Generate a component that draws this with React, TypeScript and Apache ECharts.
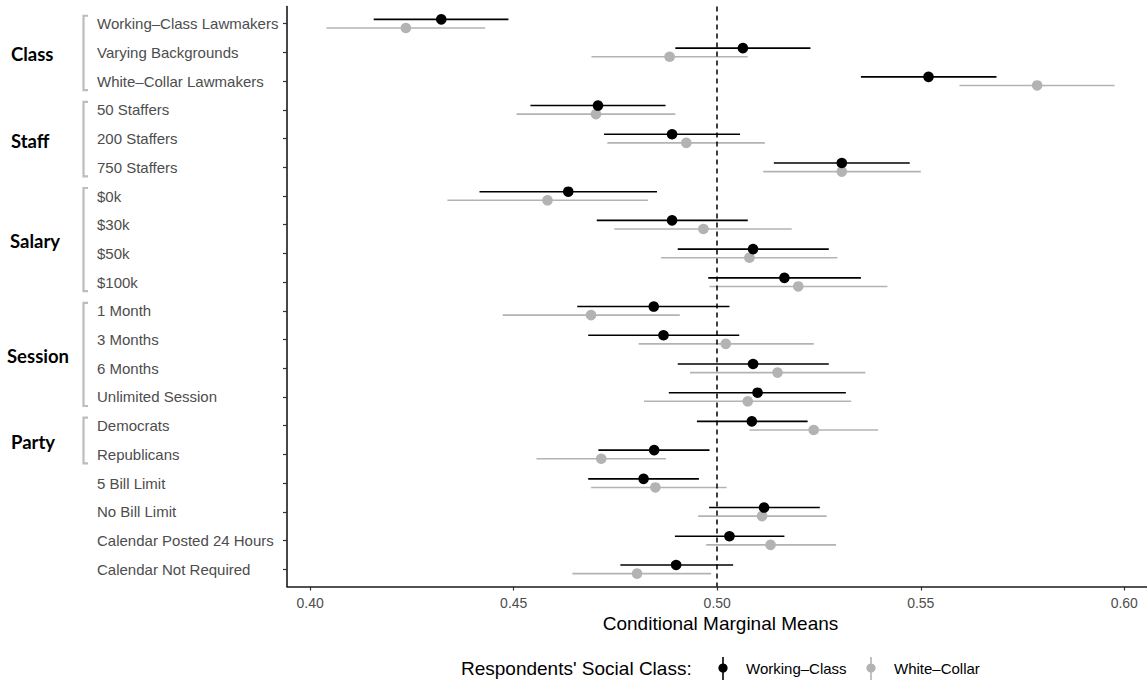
import React, { useEffect, useRef } from "react";
import * as echarts from "echarts";

const categories = [
  "Working–Class Lawmakers",
  "Varying Backgrounds",
  "White–Collar Lawmakers",
  "50 Staffers",
  "200 Staffers",
  "750 Staffers",
  "$0k",
  "$30k",
  "$50k",
  "$100k",
  "1 Month",
  "3 Months",
  "6 Months",
  "Unlimited Session",
  "Democrats",
  "Republicans",
  "5 Bill Limit",
  "No Bill Limit",
  "Calendar Posted 24 Hours",
  "Calendar Not Required",
];

const workingMean = [0.4322, 0.5063, 0.5519, 0.4707, 0.4889, 0.5306, 0.4634, 0.4889, 0.5088, 0.5165, 0.4844, 0.4868, 0.5088, 0.5099, 0.5085, 0.4845, 0.4819, 0.5115, 0.503, 0.4899];
const workingLow = [0.4156, 0.4897, 0.5353, 0.4541, 0.4722, 0.5139, 0.4416, 0.4704, 0.4903, 0.4978, 0.4656, 0.4683, 0.4903, 0.4881, 0.495, 0.4708, 0.4683, 0.498, 0.4896, 0.4762];
const workingHigh = [0.4487, 0.5229, 0.5686, 0.4873, 0.5056, 0.5473, 0.4852, 0.5075, 0.5274, 0.5353, 0.503, 0.5054, 0.5274, 0.5316, 0.5222, 0.4981, 0.4955, 0.5252, 0.5165, 0.5039];

const whiteMean = [0.4235, 0.4883, 0.5786, 0.4702, 0.4924, 0.5306, 0.4583, 0.4966, 0.5079, 0.5199, 0.469, 0.5021, 0.5148, 0.5075, 0.5237, 0.4715, 0.4848, 0.511, 0.5131, 0.4803];
const whiteLow = [0.404, 0.4691, 0.5595, 0.4507, 0.473, 0.5113, 0.4337, 0.4747, 0.4862, 0.4981, 0.4473, 0.4807, 0.4933, 0.482, 0.5079, 0.4556, 0.469, 0.4953, 0.4973, 0.4644];
const whiteHigh = [0.443, 0.5075, 0.5976, 0.4897, 0.5117, 0.55, 0.483, 0.5183, 0.5295, 0.5418, 0.4908, 0.5237, 0.5364, 0.5329, 0.5395, 0.4874, 0.5023, 0.5269, 0.5292, 0.4985];

const xTicks = [0.4, 0.45, 0.5, 0.55, 0.6];
const referenceValue = 0.5;

const groupNames = ["Class", "Staff", "Salary", "Session", "Party"];
const groupFirstRow = [0, 3, 6, 10, 14];
const groupLastRow = [2, 5, 9, 13, 15];
const groupLabelX = [11, 11, 10, 7, 11];

const seriesNames = ["Working–Class", "White–Collar"];
const BLACK = "#000000";
const GREY = "#b3b3b3";
const FONT = "'Liberation Sans', Arial, Helvetica, sans-serif";

function buildRows(mean: number[], low: number[], high: number[]) {
  return categories.map((_, i) => [i, low[i], high[i], mean[i]]);
}

function makeRender(color: string, shift: number, lineWidth: number) {
  return (params: any, api: any) => {
    const row = api.value(0);
    const lo = api.value(1);
    const hi = api.value(2);
    const m = api.value(3);
    const rowPx = api.size([0, 1])[1];
    const dy = shift * rowPx;
    const p1 = api.coord([lo, row]);
    const p2 = api.coord([hi, row]);
    const pm = api.coord([m, row]);
    return {
      type: "group",
      children: [
        {
          type: "line",
          shape: { x1: p1[0], y1: p1[1] + dy, x2: p2[0], y2: p2[1] + dy },
          style: { stroke: color, lineWidth },
        },
        {
          type: "circle",
          shape: { cx: pm[0], cy: pm[1] + dy, r: 5.3 },
          style: { fill: color },
        },
      ],
    };
  };
}

export default function App() {
  const ref = useRef<HTMLDivElement>(null);

  useEffect(() => {
    document.body.style.margin = "0";
    if (!ref.current) return;
    const chart = echarts.init(ref.current, null, { renderer: "svg" });
    const rowIdx = categories.map((_, i) => i);

    chart.setOption({
      animation: false,
      backgroundColor: "#ffffff",
      grid: { left: 287, top: 6.5, width: 867, height: 580, containLabel: false, outerBoundsMode: "none" },
      xAxis: {
        type: "value",
        min: 0.3943,
        max: 0.6073,
        splitLine: { show: false },
        axisLine: { show: true, onZero: false, lineStyle: { color: "#1a1a1a", width: 1.6 } },
        axisTick: { show: true, length: 4, customValues: xTicks, lineStyle: { color: "#333333", width: 1.2 } },
        axisLabel: {
          customValues: xTicks,
          formatter: (v: number) => v.toFixed(2),
          color: "#4d4d4d",
          fontSize: 14,
          fontFamily: FONT,
          margin: 9,
        },
        name: "Conditional Marginal Means",
        nameLocation: "middle",
        nameGap: 24,
        nameTextStyle: { color: "#000000", fontSize: 19, fontFamily: FONT },
      },
      yAxis: {
        type: "value",
        inverse: true,
        min: -0.6,
        max: 19.6,
        splitLine: { show: false },
        axisLine: { show: true, onZero: false, lineStyle: { color: "#1a1a1a", width: 1.6 } },
        axisTick: { show: true, length: 4, customValues: rowIdx, lineStyle: { color: "#333333", width: 1.2 } },
        axisLabel: {
          customValues: rowIdx,
          formatter: (v: number) => categories[Math.round(v)] ?? "",
          color: "#4d4d4d",
          fontSize: 15,
          fontFamily: FONT,
          align: "left",
          margin: 190,
        },
      },
      series: [
        {
          name: seriesNames[1],
          type: "custom",
          renderItem: makeRender(GREY, 0.15, 1.6),
          encode: { x: [1, 2, 3], y: 0 },
          data: buildRows(whiteMean, whiteLow, whiteHigh),
          z: 2,
        },
        {
          name: seriesNames[0],
          type: "custom",
          renderItem: makeRender(BLACK, -0.15, 1.6),
          encode: { x: [1, 2, 3], y: 0 },
          data: buildRows(workingMean, workingLow, workingHigh),
          z: 3,
          markLine: {
            silent: true,
            symbol: ["none", "none"],
            label: { show: false },
            lineStyle: { color: "#000000", type: [5, 4], width: 1.5 },
            data: [{ xAxis: referenceValue }],
          },
        },
      ],
    });

    // annotations: group brackets and labels, positioned from the y scale
    const yOf = (r: number) => chart.convertToPixel({ gridIndex: 0 }, [0.5, r])[1];
    const graphics: any[] = [];
    groupNames.forEach((g, i) => {
      const top = yOf(groupFirstRow[i]) - 8;
      const bot = yOf(groupLastRow[i]) + 9;
      const mid = (yOf(groupFirstRow[i]) + yOf(groupLastRow[i])) / 2 + 2;
      graphics.push({
        type: "polyline",
        shape: { points: [[88, top], [83.5, top], [83.5, bot], [88, bot]] },
        style: { stroke: "#bdbdbd", lineWidth: 2.2, fill: null },
      });
      graphics.push({
        type: "text",
        x: groupLabelX[i],
        y: mid,
        style: {
          text: g,
          fontFamily: "Lato, 'Open Sans', sans-serif",
          fontWeight: "bold",
          fontSize: 18.5,
          fill: "#000000",
          verticalAlign: "middle",
          align: "left",
        },
      });
    });

    // legend
    const ly = 668;
    graphics.push({
      type: "text",
      x: 461,
      y: ly,
      style: { text: "Respondents' Social Class:", fontFamily: FONT, fontSize: 19, fill: "#000", verticalAlign: "middle" },
    });
    const keys = [
      { x: 723, color: BLACK, label: seriesNames[0], tx: 746 },
      { x: 871, color: GREY, label: seriesNames[1], tx: 894 },
    ];
    keys.forEach((k) => {
      graphics.push({ type: "line", shape: { x1: k.x, y1: ly - 11, x2: k.x, y2: ly + 12 }, style: { stroke: k.color, lineWidth: 1.6 } });
      graphics.push({ type: "circle", shape: { cx: k.x, cy: ly, r: 4.6 }, style: { fill: k.color } });
      graphics.push({
        type: "text",
        x: k.tx,
        y: ly,
        style: { text: k.label, fontFamily: FONT, fontSize: 15, fill: "#000", verticalAlign: "middle" },
      });
    });

    chart.setOption({ graphic: graphics });

    return () => chart.dispose();
  }, []);

  return <div ref={ref} style={{ width: 1147, height: 680 }} />;
}
